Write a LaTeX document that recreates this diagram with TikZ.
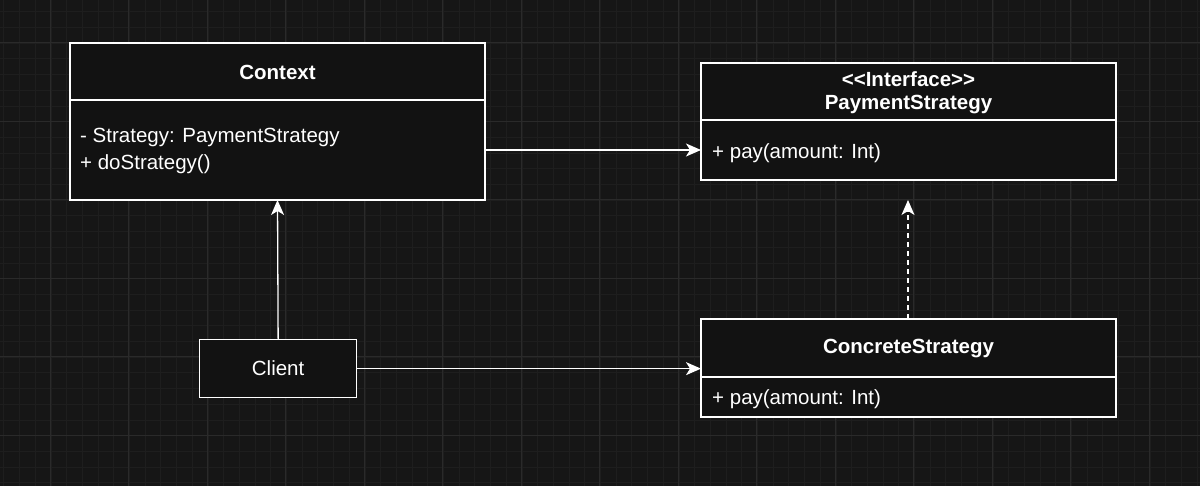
\documentclass[tikz,border=0pt]{standalone}
\usepackage{fontspec}
\setmainfont{Liberation Sans}
\usetikzlibrary{arrows.meta}
\definecolor{bg}{HTML}{161616}
\definecolor{boxbg}{HTML}{121212}
\definecolor{minor}{HTML}{1E1E1E}
\definecolor{major}{HTML}{2A2A2A}
\begin{document}
\begin{tikzpicture}[x=1pt,y=-1pt,
  box/.style={draw=white,line width=1.3pt,fill=boxbg},
  sep/.style={draw=white,line width=1.3pt},
  txt/.style={text=white,font=\fontsize{20.5}{24}\selectfont,inner sep=0pt},
  btxt/.style={text=white,font=\fontsize{20.5}{24}\selectfont\bfseries,inner sep=0pt},
  conn/.style={draw=white,line width=1.3pt,-{Stealth[length=15pt,width=13pt,inset=4pt]}}]
\fill[bg] (0,0) rectangle (1200,486);
\useasboundingbox (0,0) rectangle (1200,486);
\foreach \i in {0,...,80} {
  \draw[minor,line width=0.6pt] ({-12+15.7*\i},0) -- ({-12+15.7*\i},486);
  \draw[minor,line width=0.6pt] (0,{-4+15.7*\i}) -- (1200,{-4+15.7*\i});
}
\foreach \i in {0,...,16} {
  \draw[major,line width=1pt] ({-28.5+78.5*\i},0) -- ({-28.5+78.5*\i},486);
  \draw[major,line width=1pt] (0,{-35.5+78.5*\i}) -- (1200,{-35.5+78.5*\i});
}
% Context
\path[box] (70,43) rectangle (485,200);
\draw[sep] (70,100) -- (485,100);
\node[btxt] (ctxt) at (277.5,72) {Context};
\node[txt,anchor=west] (ca1) at (80,137) {- Strategy: PaymentStrategy};
\node[txt,anchor=west] (ca2) at (80,164) {+ doStrategy()};
\coordinate (ctxE) at (485,150);
\coordinate (ctxS) at (277.5,200);
% PaymentStrategy
\path[box] (701,63) rectangle (1116,180);
\draw[sep] (701,120) -- (1116,120);
\node[btxt] (pst1) at (908.5,79) {{<}{<}Interface{>}{>}};
\node[btxt] (pst2) at (908.5,105) {PaymentStrategy};
\node[txt,anchor=west] (pa) at (712,153) {+ pay(amount: Int)};
\coordinate (psW) at (701,150);
\coordinate (psDash) at (908,200);
% ConcreteStrategy
\path[box] (701,319) rectangle (1116,417);
\draw[sep] (701,377) -- (1116,377);
\node[btxt] (cst) at (908.5,349) {ConcreteStrategy};
\node[txt,anchor=west] (csa) at (712,399) {+ pay(amount: Int)};
\coordinate (csN) at (908,319);
\coordinate (csW) at (701,368);
% Client
\node[box,minimum width=157pt,minimum height=58pt,inner sep=0pt,anchor=north west,text=white,font=\fontsize{20.5}{24}\selectfont] (client) at (199,339) {Client};
% connectors
\draw[conn] (ctxE) -- (psW);
\draw[conn] (client.north) -- (ctxS);
\draw[conn] (client.east) -- (client.east -| csW);
\draw[conn,dash pattern=on 5pt off 4pt] (csN) -- (psDash);
\end{tikzpicture}
\end{document}
